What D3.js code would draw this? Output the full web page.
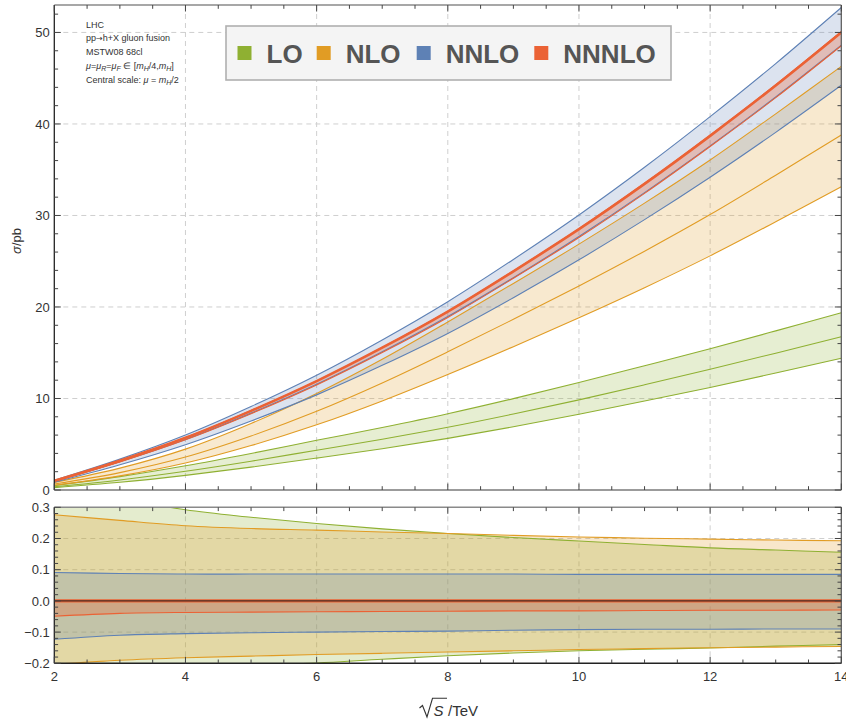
<!DOCTYPE html>
<html><head><meta charset="utf-8">
<script src="https://cdn.jsdelivr.net/npm/d3@7"></script>
<style>body{margin:0;background:#fff} svg{display:block;font-family:"Liberation Sans",Arial,sans-serif}</style>
</head><body><svg id="c" width="846" height="722"></svg>
<script>
// ---- data ----
const energies   = [2, 3, 4, 5, 6, 7, 8, 9, 10, 11, 12, 13, 14];           // sqrt(S) / TeV
const loCentral  = [0.35, 1.1, 2.05, 3.15, 4.35, 5.55, 6.85, 8.3, 9.85, 11.5, 13.2, 14.95, 16.75];
const nloCentral = [0.65, 1.9, 3.6, 5.9, 8.6, 11.7, 15.1, 18.65, 22.3, 26.1, 30.1, 34.4, 38.8];
const nnloCentral= [0.97, 3.1, 5.53, 8.4, 11.55, 15.1, 18.95, 23.2, 27.7, 32.5, 37.6, 42.95, 48.6];
const n3loCentral= [1.0, 3.2, 5.7, 8.65, 11.9, 15.55, 19.5, 23.9, 28.5, 33.45, 38.7, 44.2, 50.0];
// relative scale uncertainties (upper / lower) w.r.t. own central value
const loUp    = [0.37, 0.33, 0.292, 0.268, 0.248, 0.231, 0.216, 0.203, 0.192, 0.181, 0.170, 0.163, 0.156];
const loDown  = [-0.26, -0.235, -0.218, -0.206, -0.199, -0.187, -0.176, -0.167, -0.160, -0.155, -0.151, -0.145, -0.140];
const nloUp   = [0.276, 0.258, 0.241, 0.232, 0.227, 0.221, 0.216, 0.210, 0.205, 0.201, 0.198, 0.195, 0.193];
const nloDown = [-0.203, -0.19, -0.182, -0.177, -0.172, -0.168, -0.164, -0.160, -0.156, -0.153, -0.150, -0.148, -0.146];
const nnloUp  = [0.091, 0.088, 0.086, 0.086, 0.086, 0.086, 0.086, 0.086, 0.085, 0.085, 0.085, 0.085, 0.085];
const nnloDown= [-0.123, -0.11, -0.105, -0.102, -0.100, -0.098, -0.097, -0.094, -0.092, -0.091, -0.091, -0.090, -0.090];
const n3loUp  = [0.004, 0.003, 0.003, 0.003, 0.002, 0.002, 0.002, 0.002, 0.002, 0.002, 0.002, 0.002, 0.002];
const n3loDown= [-0.049, -0.040, -0.037, -0.036, -0.035, -0.034, -0.033, -0.032, -0.032, -0.031, -0.030, -0.030, -0.029];
const orderNames = ["LO", "NLO", "NNLO", "NNNLO"];
const orderColors = ["#8FB032", "#E19C24", "#5E81B5", "#EB6235"];
const xTicks = [2, 4, 6, 8, 10, 12, 14];
const yMainTicks = [0, 10, 20, 30, 40, 50];
const yRatioTicks = [-0.2, -0.1, 0.0, 0.1, 0.2, 0.3];
const notes = ["LHC", "MSTW08 68cl"];

const orders = [
  {c: loCentral,  up: loUp,   dn: loDown},
  {c: nloCentral, up: nloUp,  dn: nloDown},
  {c: nnloCentral,up: nnloUp, dn: nnloDown},
  {c: n3loCentral,up: n3loUp, dn: n3loDown}
];

// ---- layout ----
const svg = d3.select("#c");
const x = d3.scaleLinear().domain([2, 14]).range([54.3, 841.3]);
const yM = d3.scaleLinear().domain([0, 53]).range([490, 5]);
const yR = d3.scaleLinear().domain([-0.2, 0.3]).range([663.3, 507.3]);
const defs = svg.append("defs");
defs.append("clipPath").attr("id","cm").append("rect")
  .attr("x", x(2)).attr("y", yM(53)).attr("width", x(14)-x(2)).attr("height", yM(0)-yM(53));
defs.append("clipPath").attr("id","cr").append("rect")
  .attr("x", x(2)).attr("y", yR(0.3)).attr("width", x(14)-x(2)).attr("height", yR(-0.2)-yR(0.3));

const gridStyle = s => s.attr("stroke","#cfcfcf").attr("stroke-width",1).attr("stroke-dasharray","5,4");
// grids
const gM = svg.append("g");
[4,6,8,10,12].forEach(v=>{
  gM.append("line").attr("x1",x(v)).attr("x2",x(v)).attr("y1",yM(53)).attr("y2",yM(0)).call(gridStyle);
  gM.append("line").attr("x1",x(v)).attr("x2",x(v)).attr("y1",yR(0.3)).attr("y2",yR(-0.2)).call(gridStyle);
});
[10,20,30,40,50].forEach(v=>{
  gM.append("line").attr("x1",x(2)).attr("x2",x(14)).attr("y1",yM(v)).attr("y2",yM(v)).call(gridStyle);
});
[0.2,0.1,-0.1].forEach(v=>{
  gM.append("line").attr("x1",x(2)).attr("x2",x(14)).attr("y1",yR(v)).attr("y2",yR(v)).call(gridStyle);
});

const curve = d3.curveCatmullRom.alpha(0.5);
const idx = energies.map((d,i)=>i);

// ---- main panel ----
const pm = svg.append("g").attr("clip-path","url(#cm)");
orders.forEach((o,k)=>{
  const area = d3.area().curve(curve).x(i=>x(energies[i]))
    .y0(i=>yM(o.c[i]*(1+o.dn[i]))).y1(i=>yM(o.c[i]*(1+o.up[i])));
  pm.append("path").attr("d", area(idx)).attr("fill", orderColors[k]).attr("fill-opacity", k===3?0.3:0.22);
});
orders.forEach((o,k)=>{
  const lu = d3.line().curve(curve).x(i=>x(energies[i])).y(i=>yM(o.c[i]*(1+o.up[i])));
  const ld = d3.line().curve(curve).x(i=>x(energies[i])).y(i=>yM(o.c[i]*(1+o.dn[i])));
  const lc = d3.line().curve(curve).x(i=>x(energies[i])).y(i=>yM(o.c[i]));
  pm.append("path").attr("d", lu(idx)).attr("fill","none").attr("stroke",orderColors[k]).attr("stroke-width",1.1);
  pm.append("path").attr("d", ld(idx)).attr("fill","none").attr("stroke",orderColors[k]).attr("stroke-width",1.1);
  pm.append("path").attr("d", lc(idx)).attr("fill","none").attr("stroke",orderColors[k]).attr("stroke-width", k===3?2.6:1.1);
});

// ---- ratio panel ----
const pr = svg.append("g").attr("clip-path","url(#cr)");
orders.forEach((o,k)=>{
  const area = d3.area().curve(curve).x(i=>x(energies[i])).y0(i=>yR(o.dn[i])).y1(i=>yR(o.up[i]));
  pr.append("path").attr("d", area(idx)).attr("fill", orderColors[k]).attr("fill-opacity", k===3?0.3:0.24);
});
orders.forEach((o,k)=>{
  const lu = d3.line().curve(curve).x(i=>x(energies[i])).y(i=>yR(o.up[i]));
  const ld = d3.line().curve(curve).x(i=>x(energies[i])).y(i=>yR(o.dn[i]));
  if (k<3) pr.append("path").attr("d", lu(idx)).attr("fill","none").attr("stroke",orderColors[k]).attr("stroke-width",1.1);
  pr.append("path").attr("d", ld(idx)).attr("fill","none").attr("stroke",orderColors[k]).attr("stroke-width",1.1);
});
pr.append("line").attr("x1",x(2)).attr("x2",x(14)).attr("y1",yR(0)).attr("y2",yR(0))
  .attr("stroke",orderColors[3]).attr("stroke-width",3.2);
pr.append("line").attr("x1",x(2)).attr("x2",x(14)).attr("y1",yR(0)).attr("y2",yR(0))
  .attr("stroke","#222").attr("stroke-width",1);

// ---- frames & ticks ----
function frame(y, yTop, yBot, majorY, minorY, bottomColor) {
  const g = svg.append("g");
  const L = x(2), R = x(14), T = y(yTop), B = y(yBot);
  g.append("line").attr("x1",L).attr("x2",R).attr("y1",T).attr("y2",T).attr("stroke","#8a8a8a").attr("stroke-width",1.4);
  g.append("line").attr("x1",R).attr("x2",R).attr("y1",T).attr("y2",B).attr("stroke","#555").attr("stroke-width",1.2);
  g.append("line").attr("x1",L).attr("x2",R).attr("y1",B).attr("y2",B).attr("stroke",bottomColor).attr("stroke-width",1.4);
  g.append("line").attr("x1",L).attr("x2",L).attr("y1",T).attr("y2",B).attr("stroke","#222").attr("stroke-width",1.3);
  const tk = (x1,y1,x2,y2)=>g.append("line").attr("x1",x1).attr("y1",y1).attr("x2",x2).attr("y2",y2).attr("stroke","#444").attr("stroke-width",1);
  d3.range(2, 14.01, 0.5).forEach(v=>{
    const major = Math.abs(v/2 - Math.round(v/2))<1e-6;
    const len = major?6.5:3.8;
    tk(x(v),B,x(v),B-len); tk(x(v),T,x(v),T+len);
  });
  majorY.forEach(v=>{ tk(L,y(v),L+6.5,y(v)); tk(R,y(v),R-6.5,y(v)); });
  minorY.forEach(v=>{ tk(L,y(v),L+3.8,y(v)); tk(R,y(v),R-3.8,y(v)); });
  majorY.forEach(v=>{
    g.append("text").attr("x",L-4.5).attr("y",y(v)).attr("dy","0.36em").attr("text-anchor","end")
      .attr("font-size",13).attr("fill","#333").text(v<0? "\u2212"+d3.format(".1f")(-v) : (y===yR? d3.format(".1f")(v): v));
  });
}
const minorMain = d3.range(0, 53, 2).filter(v=>v%10!==0);
const minorRatio = d3.range(-0.2, 0.301, 0.02).map(v=>+v.toFixed(2)).filter(v=>Math.abs(v*10-Math.round(v*10))>1e-6);
frame(yM, 53, 0, yMainTicks, minorMain, "#7a7a7a");
frame(yR, 0.3, -0.2, yRatioTicks, minorRatio, "#222");
xTicks.forEach(v=>{
  svg.append("text").attr("x",x(v)).attr("y",681).attr("text-anchor","middle").attr("font-size",13).attr("fill","#333").text(v);
});

// ---- annotations ----
const ann = svg.append("g").attr("font-size",9).attr("fill","#333");
const lineY = i => 27.5 + i*13.8;
ann.append("text").attr("x",86).attr("y",lineY(0)).text(notes[0]);
const t2 = ann.append("text").attr("x",86).attr("y",lineY(1));
t2.append("tspan").text("pp");
t2.append("tspan").attr("font-family","DejaVu Sans").attr("font-size",8).text("\u2192");
t2.append("tspan").text("h+X gluon fusion");
ann.append("text").attr("x",86).attr("y",lineY(2)).text(notes[1]);
const t4 = ann.append("text").attr("x",86).attr("y",lineY(3));
t4.append("tspan").attr("font-style","italic").text("\u03bc");
t4.append("tspan").text("=");
t4.append("tspan").attr("font-style","italic").text("\u03bc");
t4.append("tspan").attr("font-style","italic").attr("font-size",7).attr("dy",2).text("R");
t4.append("tspan").attr("dy",-2).text("=");
t4.append("tspan").attr("font-style","italic").text("\u03bc");
t4.append("tspan").attr("font-style","italic").attr("font-size",7).attr("dy",2).text("F");
t4.append("tspan").attr("dy",-2).text(" \u2208 [");
t4.append("tspan").attr("font-style","italic").text("m");
t4.append("tspan").attr("font-style","italic").attr("font-size",7).attr("dy",2).text("H");
t4.append("tspan").attr("dy",-2).text("/4,");
t4.append("tspan").attr("font-style","italic").text("m");
t4.append("tspan").attr("font-style","italic").attr("font-size",7).attr("dy",2).text("H");
t4.append("tspan").attr("dy",-2).text("]");
const t5 = ann.append("text").attr("x",86).attr("y",lineY(4));
t5.append("tspan").text("Central scale: ");
t5.append("tspan").attr("font-style","italic").text("\u03bc");
t5.append("tspan").text(" = ");
t5.append("tspan").attr("font-style","italic").text("m");
t5.append("tspan").attr("font-style","italic").attr("font-size",7).attr("dy",2).text("H");
t5.append("tspan").attr("dy",-2).text("/2");

// ---- legend ----
const lg = svg.append("g");
lg.append("rect").attr("x",226).attr("y",26).attr("width",445).attr("height",54)
  .attr("fill","#f4f4f4").attr("stroke","#b0b0b0").attr("stroke-width",1.6);
const legX = [237.5, 316.7, 416.7, 534.3];
orderNames.forEach((n,k)=>{
  lg.append("rect").attr("x",legX[k]).attr("y",46).attr("width",14).attr("height",14).attr("fill",orderColors[k]);
  lg.append("text").attr("x",legX[k]+29).attr("y",62.5).attr("font-size",26).attr("font-weight","bold")
    .attr("fill","#555").text(n);
});

// ---- axis labels ----
const yl = svg.append("text").attr("transform","translate(20.5,241) rotate(-90)").attr("text-anchor","middle")
  .attr("font-size",13).attr("fill","#333");
yl.append("tspan").attr("font-style","italic").text("\u03c3");
yl.append("tspan").text("/pb");
const xl = svg.append("g").attr("fill","#333");
xl.append("path").attr("d","M419.5,708 L422.5,705.5 L427,717 L432.5,698.3 L447,698.3")
  .attr("fill","none").attr("stroke","#333").attr("stroke-width",1.1);
xl.append("text").attr("x",433.5).attr("y",716).attr("font-size",15).attr("font-style","italic").text("S");
xl.append("text").attr("x",448).attr("y",716).attr("font-size",15).text("/TeV");
</script></body></html>
